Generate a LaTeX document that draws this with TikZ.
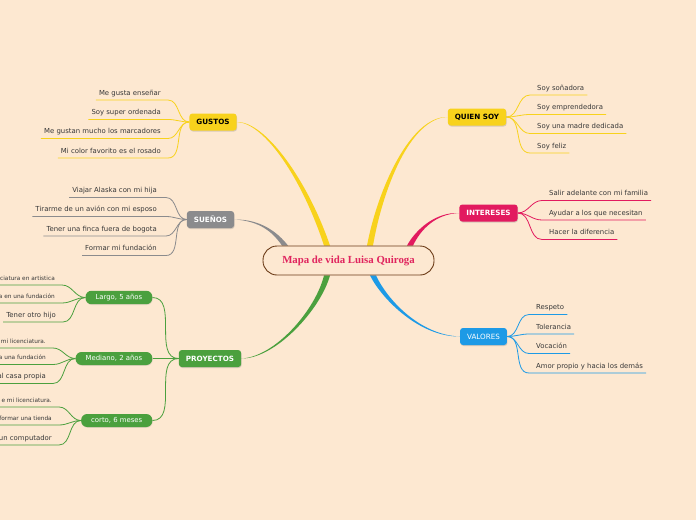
\documentclass[tikz,border=0pt]{standalone}
\usepackage{fontspec}
\setmainfont{DejaVu Sans}
\newfontfamily\titulofont{Liberation Serif}
\usetikzlibrary{shadows,backgrounds}
\definecolor{fondo}{HTML}{FDE8D1}
\definecolor{camarillo}{HTML}{F8D21C}
\definecolor{crosa}{HTML}{E21A5F}
\definecolor{cazul}{HTML}{1D9AE6}
\definecolor{cgris}{HTML}{8B8B8D}
\definecolor{cverde}{HTML}{4BA03E}
\definecolor{cborde}{HTML}{6B3A16}
\definecolor{ctitulo}{HTML}{E0245E}
\definecolor{ctexto}{HTML}{383838}
\tikzstyle{mcentro}=[rectangle,rounded corners=14pt,draw=cborde,line width=0.9pt,fill=fondo,minimum width=171pt,minimum height=29pt,text=ctitulo,font=\titulofont\bfseries\fontsize{10.8}{12}\selectfont]
\tikzstyle{mrama}=[rectangle,rounded corners=3pt,minimum height=17pt,inner xsep=7pt,font=\bfseries\fontsize{7.2}{8}\selectfont,drop shadow={opacity=0.3,shadow xshift=0.5pt,shadow yshift=-1pt}]
\tikzstyle{msub}=[rectangle,rounded corners=6pt,minimum height=13pt,inner xsep=10pt,fill=cverde,text=white,font=\fontsize{6.9}{8}\selectfont,drop shadow={opacity=0.2,shadow xshift=0.4pt,shadow yshift=-0.8pt}]
\tikzstyle{mhoja}=[inner xsep=3pt,inner ysep=3pt,text height=5pt,text depth=1.5pt,text=ctexto,font=\fontsize{6.9}{8}\selectfont]
\tikzstyle{mchica}=[mhoja,font=\fontsize{5.8}{6.5}\selectfont]
\tikzstyle{mlinea}=[line width=0.8pt]
% rama gruesa: color, desde, control 1, control 2, hasta, lado
\newcommand{\grueso}[6]{\fill[#1] (#2) .. controls ([yshift={(#6)*1pt}]#3) and ([xshift=2.5pt]#4) .. ([xshift=3pt]#5) -- ([xshift=-3pt]#5) .. controls ([xshift=-2.5pt]#4) and ([yshift={-(#6)*1pt}]#3) .. (#2) -- cycle;}

\begin{document}
\begin{tikzpicture}[x=1pt,y=-1pt]
\useasboundingbox (0,0) rectangle (696,520);
\node[mcentro] (mapa) at (348.5,260.5) {Mapa de vida Luisa Quiroga};
% ramas principales
\node[mrama,fill=camarillo] (quien) at (477,117) {QUIEN SOY};
\node[mrama,fill=crosa,text=white] (inter) at (488.5,213) {INTERESES};
\node[mrama,fill=cazul,text=white,font=\fontsize{7.2}{8}\selectfont] (valores) at (483.5,336.5) {VALORES};
\node[mrama,fill=camarillo] (gustos) at (213,122) {GUSTOS};
\node[mrama,fill=cgris,text=white] (suenos) at (210.5,219.5) {SUEÑOS};
\node[mrama,fill=cverde,text=white] (proy) at (210,358.5) {PROYECTOS};
% plazos
\node[msub,anchor=east] (largo) at (152.5,297.5) {Largo, 5 años};
\node[msub,anchor=east] (mediano) at (152.5,358.5) {Mediano, 2 años};
\node[msub,anchor=east] (corto) at (152.5,420.5) {corto, 6 meses};
% hojas derecha
\node[mhoja,anchor=south west] (q1) at (534,95) {Soy soñadora};
\node[mhoja,anchor=south west] (q2) at (534,114.5) {Soy emprendedora};
\node[mhoja,anchor=south west] (q3) at (534,133.5) {Soy una madre dedicada};
\node[mhoja,anchor=south west] (q4) at (534,153) {Soy feliz};
\node[mhoja,anchor=south west] (i1) at (546,200.5) {Salir adelante con mi familia};
\node[mhoja,anchor=south west] (i2) at (546,220) {Ayudar a los que necesitan};
\node[mhoja,anchor=south west] (i3) at (546,239.5) {Hacer la diferencia};
\node[mhoja,anchor=south west] (v1) at (533,314.5) {Respeto};
\node[mhoja,anchor=south west] (v2) at (533,334) {Tolerancia};
\node[mhoja,anchor=south west] (v3) at (533,353.5) {Vocación};
\node[mhoja,anchor=south west] (v4) at (533,373) {Amor propio y hacia los demás};
% hojas izquierda
\node[mhoja,anchor=south east] (g1) at (164,100) {Me gusta enseñar};
\node[mhoja,anchor=south east] (g2) at (164,119.5) {Soy super ordenada};
\node[mhoja,anchor=south east] (g3) at (164,138.5) {Me gustan mucho los marcadores};
\node[mhoja,anchor=south east] (g4) at (164,158) {Mi color favorito es el rosado};
\node[mhoja,anchor=south east] (s1) at (160,197.5) {Viajar Alaska con mi hija};
\node[mhoja,anchor=south east] (s2) at (160,216.5) {Tirarme de un avión con mi esposo};
\node[mhoja,anchor=south east] (s3) at (160,236) {Tener una finca fuera de bogota};
\node[mhoja,anchor=south east] (s4) at (160,255.5) {Formar mi fundación};
\node[mchica,anchor=south east] (l1) at (58,285) {licenciatura en artistica};
\node[mchica,anchor=south east] (l2) at (58,303) {a en una fundación};
\node[mhoja,anchor=south east] (l3) at (59,322) {Tener otro hijo};
\node[mchica,anchor=south east] (m1) at (49,348) {mi licenciatura.};
\node[mchica,anchor=south east] (m2) at (49,364.5) {a una fundación};
\node[mhoja,anchor=south east] (m3) at (49,383.5) {al casa propia};
\node[mchica,anchor=south east] (c1) at (55,407) {e mi licenciatura.};
\node[mchica,anchor=south east] (c2) at (55,425) {formar una tienda};
\node[mhoja,anchor=south east] (c3) at (55,445) {un computador};

\begin{scope}[on background layer]
\fill[fondo] (0,0) rectangle (696,520);
\coordinate (pgus) at ([xshift=-21.5pt]mapa.north);
\coordinate (pqui) at ([xshift=21.5pt]mapa.north);
\coordinate (pint) at ([xshift=61.5pt]mapa.north);
\coordinate (psue) at ([xshift=-63.5pt]mapa.north);
\coordinate (ppro) at ([xshift=-21.5pt]mapa.south);
\coordinate (pval) at ([xshift=24.5pt]mapa.south);
\grueso{camarillo}{gustos.east}{265,122}{305,180}{pgus}{1}
\grueso{camarillo}{quien.west}{410,117}{380,190}{pqui}{-1}
\grueso{crosa}{inter.west}{435,213}{418,230}{pint}{-1}
\grueso{cgris}{suenos.east}{260,220}{275,232}{psue}{1}
\grueso{cverde}{proy.east}{275,358}{318,310}{ppro}{-1}
\grueso{cazul}{valores.west}{420,336}{385,300}{pval}{1}
% quien soy
\draw[mlinea,camarillo] (quien.east) to[out=0,in=180] ([xshift=-4pt]q1.south west) -- (q1.south east);
\draw[mlinea,camarillo] (quien.east) to[out=0,in=180] ([xshift=-4pt]q2.south west) -- (q2.south east);
\draw[mlinea,camarillo] (quien.east) to[out=0,in=180] ([xshift=-4pt]q3.south west) -- (q3.south east);
\draw[mlinea,camarillo] (quien.east) to[out=0,in=180] ([xshift=-4pt]q4.south west) -- (q4.south east);
% intereses
\draw[mlinea,crosa] (inter.east) to[out=0,in=180] ([xshift=-4pt]i1.south west) -- (i1.south east);
\draw[mlinea,crosa] (inter.east) to[out=0,in=180] ([xshift=-4pt]i2.south west) -- (i2.south east);
\draw[mlinea,crosa] (inter.east) to[out=0,in=180] ([xshift=-4pt]i3.south west) -- (i3.south east);
% valores
\draw[mlinea,cazul] (valores.east) to[out=0,in=180] ([xshift=-4pt]v1.south west) -- (v1.south east);
\draw[mlinea,cazul] (valores.east) to[out=0,in=180] ([xshift=-4pt]v2.south west) -- (v2.south east);
\draw[mlinea,cazul] (valores.east) to[out=0,in=180] ([xshift=-4pt]v3.south west) -- (v3.south east);
\draw[mlinea,cazul] (valores.east) to[out=0,in=180] ([xshift=-4pt]v4.south west) -- (v4.south east);
% gustos
\draw[mlinea,camarillo] (gustos.west) to[out=180,in=0] ([xshift=4pt]g1.south east) -- (g1.south west);
\draw[mlinea,camarillo] (gustos.west) to[out=180,in=0] ([xshift=4pt]g2.south east) -- (g2.south west);
\draw[mlinea,camarillo] (gustos.west) to[out=180,in=0] ([xshift=4pt]g3.south east) -- (g3.south west);
\draw[mlinea,camarillo] (gustos.west) to[out=180,in=0] ([xshift=4pt]g4.south east) -- (g4.south west);
% suenos
\draw[mlinea,cgris] (suenos.west) to[out=180,in=0] ([xshift=6pt]s1.south east) -- (s1.south west);
\draw[mlinea,cgris] (suenos.west) to[out=180,in=0] ([xshift=6pt]s2.south east) -- (s2.south west);
\draw[mlinea,cgris] (suenos.west) to[out=180,in=0] ([xshift=6pt]s3.south east) -- (s3.south west);
\draw[mlinea,cgris] (suenos.west) to[out=180,in=0] ([xshift=6pt]s4.south east) -- (s4.south west);
% proyectos
\draw[mlinea,cverde] (proy.west) to[out=180,in=0] (largo.east);
\draw[mlinea,cverde] (proy.west) to[out=180,in=0] (mediano.east);
\draw[mlinea,cverde] (proy.west) to[out=180,in=0] (corto.east);
\draw[mlinea,cverde] (largo.west) to[out=180,in=0] ([xshift=4pt]l1.south east) -- (l1.south west);
\draw[mlinea,cverde] (largo.west) to[out=180,in=0] ([xshift=4pt]l2.south east) -- (l2.south west);
\draw[mlinea,cverde] (largo.west) to[out=180,in=0] ([xshift=4pt]l3.south east) -- (l3.south west);
\draw[mlinea,cverde] (mediano.west) to[out=180,in=0] ([xshift=4pt]m1.south east) -- (m1.south west);
\draw[mlinea,cverde] (mediano.west) to[out=180,in=0] ([xshift=4pt]m2.south east) -- (m2.south west);
\draw[mlinea,cverde] (mediano.west) to[out=180,in=0] ([xshift=4pt]m3.south east) -- (m3.south west);
\draw[mlinea,cverde] (corto.west) to[out=180,in=0] ([xshift=4pt]c1.south east) -- (c1.south west);
\draw[mlinea,cverde] (corto.west) to[out=180,in=0] ([xshift=4pt]c2.south east) -- (c2.south west);
\draw[mlinea,cverde] (corto.west) to[out=180,in=0] ([xshift=4pt]c3.south east) -- (c3.south west);
\end{scope}
\end{tikzpicture}
\end{document}
